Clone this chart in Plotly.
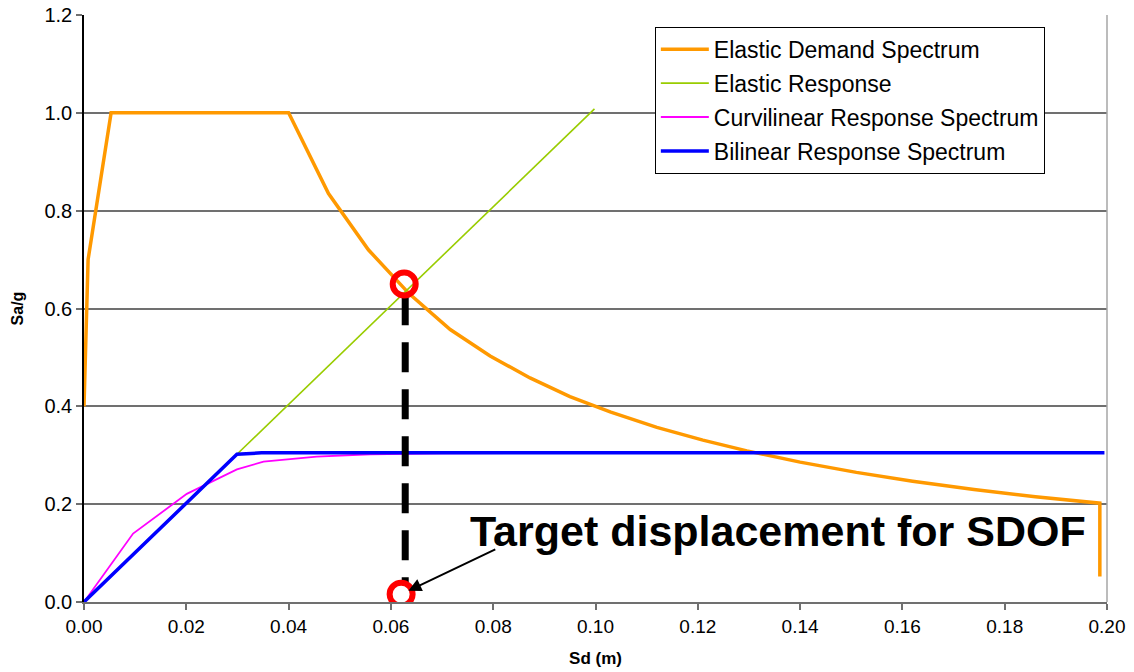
import plotly.graph_objects as go

# Elastic Demand Spectrum
demand_sd = [0.0, 0.0008, 0.0053, 0.040, 0.0478, 0.0556, 0.0636, 0.0716, 0.0794, 0.0872,
             0.095, 0.103, 0.112, 0.121, 0.1296, 0.140, 0.151, 0.162, 0.174, 0.186, 0.1986, 0.1986]
demand_sa = [0.40, 0.70, 1.00, 1.00, 0.835, 0.72, 0.63, 0.557, 0.503, 0.458,
             0.42, 0.388, 0.357, 0.331, 0.309, 0.286, 0.265, 0.247, 0.230, 0.215, 0.202, 0.052]

# Elastic Response
elastic_sd = [0.0299, 0.0998]
elastic_sa = [0.302, 1.008]

# Curvilinear Response Spectrum
curv_sd = [0.0, 0.0096, 0.0201, 0.0299, 0.0351, 0.0455, 0.056, 0.07, 0.10, 0.1986]
curv_sa = [0.0, 0.140, 0.221, 0.271, 0.287, 0.297, 0.302, 0.304, 0.305, 0.305]

# Bilinear Response Spectrum
bil_sd = [0.0, 0.0299, 0.0347, 0.1995]
bil_sa = [0.0, 0.302, 0.305, 0.305]

# Performance point / target displacement
perf_sd = [0.0626]
perf_sa = [0.650]
target_sd = [0.062]
target_sa = [0.016]
dash_sd = [0.0628, 0.0628]
dash_sa = [0.627, 0.035]
arrow_tail = (0.0807, 0.109)

x_ticks = [0.00, 0.02, 0.04, 0.06, 0.08, 0.10, 0.12, 0.14, 0.16, 0.18, 0.20]
y_ticks = [0.0, 0.2, 0.4, 0.6, 0.8, 1.0, 1.2]

FONT = "Liberation Sans, Arial, sans-serif"

fig = go.Figure()
fig.add_trace(go.Scatter(x=demand_sd, y=demand_sa, mode="lines", name="Elastic Demand Spectrum",
                         line=dict(color="#FF9900", width=3.5), legendgroup="a"))
fig.add_trace(go.Scatter(x=elastic_sd, y=elastic_sa, mode="lines", name="Elastic Response",
                         line=dict(color="#99CC00", width=1.6), legendgroup="b"))
fig.add_trace(go.Scatter(x=curv_sd, y=curv_sa, mode="lines", name="Curvilinear Response Spectrum",
                         line=dict(color="#FF00FF", width=1.8), legendgroup="c"))
fig.add_trace(go.Scatter(x=bil_sd, y=bil_sa, mode="lines", name="Bilinear Response Spectrum",
                         line=dict(color="#0000FF", width=3.5), legendgroup="d"))
fig.add_trace(go.Scatter(x=dash_sd, y=dash_sa, mode="lines", showlegend=False,
                         line=dict(color="black", width=7, dash="30px,17px")))
fig.add_trace(go.Scatter(x=perf_sd + target_sd, y=perf_sa + target_sa, mode="markers", showlegend=False,
                         marker=dict(symbol="circle-open", size=23, color="#FF0000",
                                     line=dict(color="#FF0000", width=6))))

fig.add_annotation(x=target_sd[0], y=target_sa[0], ax=arrow_tail[0], ay=arrow_tail[1],
                   axref="x", ayref="y", text="", showarrow=True, arrowhead=2, arrowsize=1.3,
                   arrowwidth=2, arrowcolor="black", standoff=8)
fig.add_annotation(x=0.1357, y=0.145, xref="x", yref="y", text="<b>Target displacement for SDOF</b>",
                   showarrow=False, font=dict(family=FONT, size=43, color="black"))

# right border
fig.add_shape(type="line", xref="paper", yref="paper", x0=1, x1=1, y0=0, y1=1,
              line=dict(color="#A6A6A6", width=1.5))

fig.update_layout(
    width=1134, height=672,
    margin=dict(l=84, r=27, t=15, b=70, autoexpand=False),
    paper_bgcolor="white", plot_bgcolor="white",
    font=dict(family=FONT, color="black"),
    showlegend=True,
    legend=dict(x=0.558, y=0.98, xanchor="left", yanchor="top",
                bordercolor="black", borderwidth=1, bgcolor="white",
                font=dict(family=FONT, size=23), tracegroupgap=1,
                itemwidth=48),
    xaxis=dict(range=[0, 0.20], tickvals=x_ticks, tickformat=".2f", automargin=False,
               showgrid=False, zeroline=False,
               showline=True, linecolor="#707070", linewidth=2,
               ticks="outside", ticklen=6, tickcolor="#707070", tickwidth=1.5,
               tickfont=dict(family=FONT, size=19),
               title=dict(text="<b>Sd (m)</b>", font=dict(family=FONT, size=17), standoff=16)),
    yaxis=dict(range=[0, 1.2], tickvals=y_ticks, tickformat=".1f", automargin=False,
               showgrid=True, gridcolor="#707070", gridwidth=1.5, zeroline=False,
               showline=True, linecolor="black", linewidth=1.5,
               ticks="outside", ticklen=6, tickcolor="#707070", tickwidth=1.5,
               tickfont=dict(family=FONT, size=20),
               title=dict(text="<b>Sa/g</b>", font=dict(family=FONT, size=16), standoff=17)),
)

fig.write_html("out.html", config={"displayModeBar": False},
               post_script="document.body.style.margin='0';document.body.style.overflow='hidden';")
